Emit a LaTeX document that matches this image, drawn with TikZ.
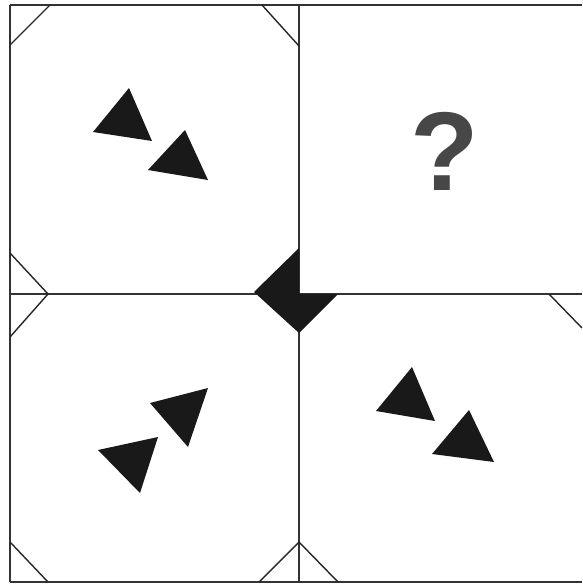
\documentclass[tikz,border=0pt]{standalone}
\usepackage{fontspec}
\setmainfont{Liberation Sans}
\begin{document}
\begin{tikzpicture}[x=1pt,y=-1pt,every node/.style={text=black!72},
    grid/.style={black!80,line width=1.6pt},
    cut/.style={black!85,line width=1.4pt},
    solid/.style={fill=black!90}]
    \useasboundingbox (0,0) rectangle (582,584);
    % frame and cells
    \draw[grid] (10,5) -- (582,5);
    \draw[grid] (10,582) -- (582,582);
    \draw[grid] (10,5) -- (10,582);
    \draw[grid] (299,5) -- (299,582);
    \draw[grid] (10,294) -- (582,294);
    % cut corners
    \draw[cut] (10,45) -- (50,5);
    \draw[cut] (262,5) -- (299,46);
    \draw[cut] (10,253) -- (48,294) -- (10,337);
    \draw[cut] (10,542) -- (48,582);
    \draw[cut] (259,582) -- (299,542) -- (338,582);
    \draw[cut] (549,294) -- (582,328);
    \fill[solid] (254,292) -- (299,248) -- (299,294) -- (338,294) -- (299,333) -- cycle;
    % arrows in the cells
    \fill[solid] (129,88) -- (93,132) -- (152,141) -- cycle;
    \fill[solid] (185,130) -- (148,170) -- (208,180) -- cycle;
    \fill[solid] (150,403) -- (208,388) -- (188,447) -- cycle;
    \fill[solid] (98,450) -- (158,437) -- (140,493) -- cycle;
    \fill[solid] (412,367) -- (376,411) -- (435,421) -- cycle;
    \fill[solid] (469,410) -- (432,454) -- (494,462) -- cycle;
    \node[anchor=base] (ques) at (445,190) {\fontsize{112}{112}\selectfont\bfseries ?};
\end{tikzpicture}
\end{document}
